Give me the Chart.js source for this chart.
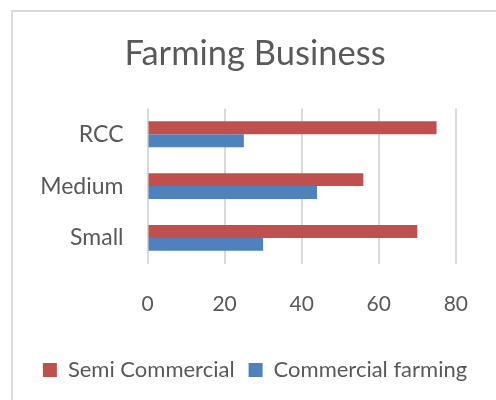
<!DOCTYPE html>
<html>
<head>
<meta charset="utf-8">
<script src="https://cdn.jsdelivr.net/npm/chart.js@4/dist/chart.umd.min.js"></script>
<style>
  html, body { margin: 0; padding: 0; background: #fff; overflow: hidden; }
  #wrap { position: relative; width: 496px; height: 400px; }
  #frame { position: absolute; left: 11px; top: 10px; width: 600px; height: 500px;
           border-left: 2px solid #d9d9d9; border-top: 2px solid #d9d9d9; box-sizing: border-box; }
  canvas { position: absolute; left: 0; top: 0; }
</style>
</head>
<body>
<div id="wrap">
  <div id="frame"></div>
  <canvas id="c" width="496" height="400"></canvas>
</div>
<script>
const categories = ['RCC', 'Medium', 'Small'];
const semiCommercial = [75, 56, 70];
const commercialFarming = [25, 44, 30];
const xTicks = [0, 20, 40, 60, 80];
const seriesNames = ['Semi Commercial', 'Commercial farming'];

const FONT = 'Lato, "Open Sans", sans-serif';
const TEXT = '#595959';

new Chart(document.getElementById('c'), {
  type: 'bar',
  data: {
    labels: categories,
    datasets: [
      { label: seriesNames[0], data: semiCommercial, backgroundColor: '#C0504D', borderWidth: 0 },
      { label: seriesNames[1], data: commercialFarming, backgroundColor: '#4F81BD', borderWidth: 0 }
    ]
  },
  options: {
    indexAxis: 'y',
    responsive: false,
    animation: false,
    devicePixelRatio: 1,
    datasets: { bar: { categoryPercentage: 0.5, barPercentage: 1.0 } },
    layout: { padding: { left: 14, right: 0, top: 0, bottom: 9 } },
    scales: {
      x: {
        min: 0, max: 90,
        afterBuildTicks: (axis) => { axis.ticks = xTicks.map(v => ({ value: v })); },
        grid: { color: '#d9d9d9', lineWidth: 2, drawTicks: false },
        border: { display: false },
        ticks: { color: TEXT, font: { family: FONT, size: 21 }, padding: 28 }
      },
      y: {
        afterFit: (axis) => { axis.width = 133.5; },
        grid: { display: false, drawTicks: false },
        border: { display: false },
        ticks: { color: TEXT, font: { family: FONT, size: 23 }, padding: 24 }
      }
    },
    plugins: {
      title: {
        display: true,
        text: 'Farming Business',
        color: TEXT,
        font: { family: FONT, size: 34.5, weight: 'normal' },
        padding: { top: 33, bottom: 34 }
      },
      legend: {
        position: 'bottom',
        labels: {
          color: TEXT,
          font: { family: FONT, size: 22 },
          boxWidth: 14, boxHeight: 14,
          padding: 14
        }
      },
      tooltip: { enabled: false }
    }
  }
});
</script>
</body>
</html>
